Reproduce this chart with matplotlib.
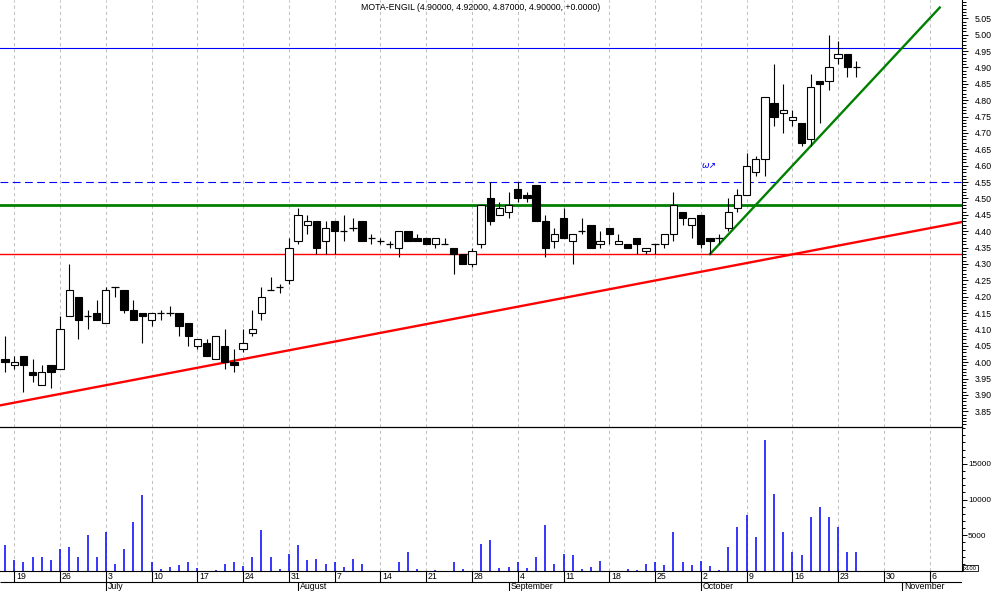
import matplotlib
matplotlib.use('Agg')
import matplotlib.pyplot as plt
import numpy as np
import pandas as pd
from matplotlib.ticker import MultipleLocator, FixedLocator, FormatStrFormatter

plt.rcParams['font.family'] = ['Liberation Sans', 'DejaVu Sans']

# ---------------- data ----------------
title = "MOTA-ENGIL (4.90000, 4.92000, 4.87000, 4.90000, +0.0000)"
dates = pd.bdate_range('2006-06-16', '2006-10-25')

opens = [4.01, 3.99, 4.02, 3.97, 3.93, 3.99, 3.98, 4.14, 4.20, 4.14,
         4.15, 4.12, 4.23, 4.22, 4.16, 4.15, 4.13, 4.15, 4.15, 4.15,
         4.12, 4.05, 4.06, 4.01, 4.05, 4.00, 4.04, 4.09, 4.15, 4.22,
         4.23, 4.25, 4.37, 4.42, 4.43, 4.37, 4.43, 4.40, 4.41, 4.43,
         4.38, 4.37, 4.36, 4.35, 4.40, 4.38, 4.38, 4.36, 4.36, 4.35,
         4.33, 4.30, 4.36, 4.50, 4.45, 4.46, 4.53, 4.51, 4.54, 4.43,
         4.37, 4.44, 4.37, 4.40, 4.42, 4.36, 4.41, 4.36, 4.36, 4.38,
         4.34, 4.36, 4.36, 4.39, 4.46, 4.42, 4.45, 4.38, 4.38, 4.41,
         4.47, 4.51, 4.58, 4.62, 4.79, 4.76, 4.74, 4.73, 4.68, 4.86,
         4.86, 4.93, 4.94, 4.90]
highs = [4.08, 4.02, 4.02, 4.01, 3.99, 3.99, 4.14, 4.30, 4.20, 4.16,
         4.19, 4.23, 4.23, 4.22, 4.19, 4.15, 4.15, 4.16, 4.17, 4.15,
         4.12, 4.07, 4.07, 4.08, 4.10, 4.04, 4.10, 4.16, 4.23, 4.26,
         4.24, 4.38, 4.47, 4.45, 4.43, 4.43, 4.43, 4.45, 4.44, 4.43,
         4.39, 4.38, 4.37, 4.40, 4.40, 4.39, 4.38, 4.38, 4.38, 4.35,
         4.33, 4.35, 4.48, 4.55, 4.49, 4.52, 4.55, 4.52, 4.54, 4.45,
         4.41, 4.47, 4.39, 4.44, 4.42, 4.40, 4.41, 4.39, 4.36, 4.38,
         4.35, 4.36, 4.39, 4.52, 4.46, 4.44, 4.45, 4.38, 4.39, 4.50,
         4.53, 4.64, 4.63, 4.81, 4.91, 4.85, 4.77, 4.73, 4.88, 4.86,
         5.00, 4.98, 4.94, 4.92]
lows = [3.97, 3.98, 3.91, 3.94, 3.93, 3.92, 3.98, 4.14, 4.07, 4.10,
        4.13, 4.12, 4.20, 4.15, 4.13, 4.06, 4.11, 4.13, 4.14, 4.08,
        4.05, 4.04, 4.02, 4.01, 3.98, 3.97, 4.03, 4.08, 4.13, 4.22,
        4.21, 4.24, 4.36, 4.39, 4.33, 4.33, 4.33, 4.37, 4.40, 4.37,
        4.36, 4.36, 4.35, 4.32, 4.37, 4.37, 4.36, 4.35, 4.36, 4.27,
        4.30, 4.29, 4.35, 4.42, 4.45, 4.44, 4.49, 4.49, 4.43, 4.32,
        4.35, 4.38, 4.30, 4.39, 4.35, 4.35, 4.36, 4.36, 4.35, 4.33,
        4.33, 4.33, 4.35, 4.37, 4.42, 4.38, 4.35, 4.33, 4.36, 4.40,
        4.46, 4.51, 4.57, 4.57, 4.72, 4.70, 4.72, 4.66, 4.66, 4.73,
        4.83, 4.91, 4.87, 4.87]
closes = [4.00, 4.00, 3.99, 3.96, 3.97, 3.97, 4.10, 4.22, 4.13, 4.14,
          4.13, 4.22, 4.23, 4.16, 4.13, 4.14, 4.15, 4.15, 4.15, 4.11,
          4.08, 4.07, 4.02, 4.08, 4.00, 3.99, 4.06, 4.10, 4.20, 4.22,
          4.23, 4.35, 4.45, 4.43, 4.35, 4.41, 4.40, 4.40, 4.41, 4.37,
          4.38, 4.37, 4.36, 4.40, 4.37, 4.37, 4.36, 4.38, 4.36, 4.33,
          4.30, 4.34, 4.48, 4.43, 4.47, 4.48, 4.50, 4.50, 4.43, 4.35,
          4.39, 4.38, 4.39, 4.40, 4.35, 4.37, 4.39, 4.37, 4.35, 4.36,
          4.35, 4.36, 4.39, 4.48, 4.44, 4.44, 4.36, 4.37, 4.38, 4.46,
          4.51, 4.60, 4.62, 4.81, 4.75, 4.77, 4.75, 4.67, 4.84, 4.85,
          4.90, 4.94, 4.90, 4.90]
volumes = [3700, 1500, 1300, 2000, 2000, 1600, 3150, 3300, 1900, 5100,
           2000, 5400, 1050, 3150, 6800, 10700, 1200, 350, 500, 900,
           1300, 450, 0, 200, 1050, 1300, 770, 1900, 5700, 1900,
           350, 2450, 3700, 1500, 1750, 1050, 1200, 630, 1750, 1050,
           0, 0, 0, 1200, 2600, 350, 0, 200, 0, 1300,
           350, 0, 3850, 4400, 490, 630, 1200, 490, 2000, 6400,
           1050, 2450, 2300, 350, 630, 1450, 0, 0, 350, 200,
           1050, 1200, 900, 5400, 1300, 900, 1450, 770, 200, 3300,
           6100, 7900, 4700, 18300, 10850, 5500, 2600, 2300, 7600, 8900,
           7600, 6200, 2600, 2600]

level_blue = 4.96
level_blue_dashed = 4.55
level_green = 4.48
level_red = 4.33
trend_red_x = ['2006-06-15', '2006-11-09']
trend_red_y = [3.868, 4.428]
trend_green_x = ['2006-10-03', '2006-11-07']
trend_green_y = [4.33, 5.083]
note_text = "\u03c9\u2197"
note_date, note_price = '2006-10-02', 4.60

month_names = ['July', 'August', 'September', 'October', 'November']

# ---------------- helpers ----------------
origin = '2006-06-19'


def bpos(d):
    """trading-day position relative to 19 Jun 2006"""
    d = pd.Timestamp(d)
    return float(np.busday_count(origin, d.strftime('%Y-%m-%d')))


x = np.array([bpos(d) for d in dates])
O = np.array(opens); H = np.array(highs); L = np.array(lows); C = np.array(closes)
V = np.array(volumes)

mondays = pd.date_range('2006-06-19', '2006-11-06', freq='W-MON')
x_mon = np.array([bpos(d) for d in mondays])
month_starts = pd.date_range('2006-07-01', '2006-11-30', freq='BMS')
x_month = np.array([bpos(d) for d in month_starts])

XMIN, XMAX = -1.56, 103.53

W, Hpx = 994, 591
fig = plt.figure(figsize=(W / 100, Hpx / 100), dpi=100)
fig.patch.set_facecolor('white')
right = 962 / W
ax_v = fig.add_axes([0, 20 / Hpx, right, 144 / Hpx])
ax_d = fig.add_axes([0, 0, right, 20 / Hpx])
ax_p = fig.add_axes([0, (Hpx - 427) / Hpx, right, 427 / Hpx])
for a in (ax_p, ax_v, ax_d):
    a.set_facecolor('none')

grid_kw = dict(color='#c0c0c0', lw=0.75, dashes=(3, 3))
FS = 6.3

# ---------------- price panel ----------------
ax = ax_p
ax.set_xlim(XMIN, XMAX)
ax.set_ylim(3.802, 5.106)
for xm in x_mon:
    ax.axvline(xm, **grid_kw, zorder=0)

ax.axhline(level_blue, color='#0000ff', lw=0.8, zorder=1)
ax.axhline(level_blue_dashed, color='#0000ff', lw=0.8, dashes=(7, 4), zorder=1)
ax.axhline(level_green, color='#008000', lw=2.0, zorder=1)
ax.axhline(level_red, color='#ff0000', lw=1.0, zorder=1)
ax.plot([bpos(d) + (0.44 if i == 0 else 0.53) for i, d in enumerate(trend_red_x)], trend_red_y,
        color='#ff0000', lw=1.7, zorder=2)
ax.plot([bpos(d) + (0.0 if i == 0 else 0.1) for i, d in enumerate(trend_green_x)], trend_green_y,
        color='#008000', lw=1.7, zorder=2)

w = 0.8
ax.vlines(x, L, H, color='k', lw=0.8, zorder=3)
doji = np.abs(C - O) < 0.005
body = ~doji
up = C >= O
bot = np.minimum(O, C)
hgt = np.abs(C - O)
ax.bar(x[body & up], hgt[body & up], bottom=bot[body & up], width=w,
       facecolor='white', edgecolor='k', lw=0.8, zorder=4)
ax.bar(x[body & ~up], hgt[body & ~up], bottom=bot[body & ~up], width=w,
       facecolor='black', edgecolor='k', lw=0.8, zorder=4)
ax.hlines(O[doji], x[doji] - w / 2, x[doji] + w / 2, color='k', lw=0.9, zorder=4)

ax.text(bpos(note_date) + 0.9, note_price, note_text, color='#0000ff', fontsize=6.5,
        ha='center', va='center', family=['DejaVu Sans'], style='italic')

ax.text(0.5, 1 - 7 / 427, title, transform=ax.transAxes, ha='center', va='center',
        fontsize=FS)

for s in ['left', 'top']:
    ax.spines[s].set_visible(False)
ax.spines['right'].set_linewidth(0.8)
ax.spines['bottom'].set_linewidth(0.9)
ax.yaxis.tick_right()
ax.yaxis.set_major_locator(FixedLocator(np.round(np.arange(3.85, 5.051, 0.05), 2)))
ax.yaxis.set_minor_locator(MultipleLocator(0.01))
ax.yaxis.set_major_formatter(FormatStrFormatter('%.2f'))
ax.tick_params(axis='y', which='major', length=4.3, width=0.7, pad=5, labelsize=FS)
ax.tick_params(axis='y', which='minor', length=2.6, width=0.7)
ax.set_xticks([])

# ---------------- volume panel ----------------
ax = ax_v
ax.set_xlim(XMIN, XMAX)
ax.set_ylim(0, 20170)
for xm in x_mon:
    ax.axvline(xm, **grid_kw, zorder=0)
ax.vlines(x[V > 0], 0, V[V > 0], color='#0000ff', lw=1.1, zorder=3)
for s in ['left', 'top']:
    ax.spines[s].set_visible(False)
ax.spines['right'].set_linewidth(0.8)
ax.spines['bottom'].set_linewidth(0.8)
ax.yaxis.tick_right()
ax.yaxis.set_major_locator(FixedLocator([5000, 10000, 15000]))
ax.yaxis.set_minor_locator(MultipleLocator(1000))
ax.yaxis.set_major_formatter(FormatStrFormatter('%d'))
ax.tick_params(axis='y', which='major', length=3.6, width=0.7, pad=0.8, labelsize=5.9)
ax.tick_params(axis='y', which='minor', length=2.2, width=0.7)
ax.set_xticks([])
fig.text(970.5 / W, 1 - 568 / Hpx, 'x100', fontsize=4.2, ha='center', va='center',
         bbox=dict(boxstyle='square,pad=0.15', fc='white', ec='black', lw=0.6))

# ---------------- date axis ----------------
ax = ax_d
ax.set_xlim(XMIN, XMAX)
ax.set_ylim(20, 0)
ax.axis('off')
ax.hlines(10.7, XMIN, XMAX, color='k', lw=0.8)
ax.vlines(x_mon, 0, 10.7, color='k', lw=0.8)
for xm, d in zip(x_mon, mondays):
    ax.annotate(str(d.day), (xm, 5.6), xytext=(1.2, 0), textcoords='offset points',
                ha='left', va='center', fontsize=FS)
ax.vlines(x_month, 10.7, 20, color='k', lw=0.8)
for xm, name in zip(x_month, month_names):
    ax.annotate(name, (xm, 15.6), xytext=(1.2, 0), textcoords='offset points',
                ha='left', va='center', fontsize=FS)

fig.savefig('out.png', dpi=100, facecolor='white')
